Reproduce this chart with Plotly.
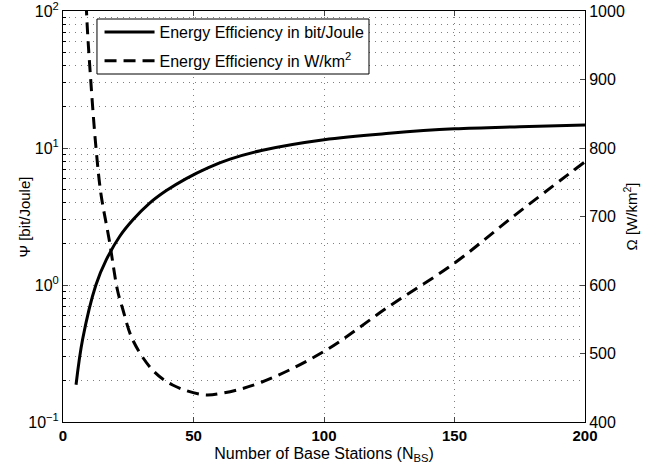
import plotly.graph_objects as go

# Energy efficiency in bit/Joule (left, log axis)
n_psi = [5, 7.5, 12.6, 16.6, 21.7, 26.8, 33.2, 39.6, 47.2, 55.5, 64, 76, 100, 125, 150, 175, 200]
psi = [0.187, 0.40, 1.0, 1.53, 2.26, 2.99, 3.96, 4.89, 5.98, 7.17, 8.3, 9.6, 11.5, 12.8, 13.8, 14.3, 14.7]

# Energy efficiency in W/km^2 (right, linear axis)
n_omega = [8, 9, 10.7, 12.6, 14.5, 17.7, 20.9, 22.8, 26.7, 34.3, 42, 53.5, 61, 76, 100, 125, 150, 172.5, 200]
omega = [1150, 1000, 895, 802, 734, 666, 592, 566, 520, 476, 454, 440, 442, 458, 503, 569, 632, 700, 780]

x_ticks = [0, 50, 100, 150, 200]
x_ticktext = ["<b>0</b>", "<b>50</b>", "<b>100</b>", "<b>150</b>", "<b>200</b>"]
y_ticks = [0.1, 1, 10, 100]
y_ticktext = ["10<sup>−1</sup>", "10<sup>0</sup>", "10<sup>1</sup>", "10<sup>2</sup>"]
y_minor = [m * d for d in (0.1, 1, 10) for m in range(2, 10)]
y2_ticks = [400, 500, 600, 700, 800, 900, 1000]

FONT = "Liberation Sans, Arial, Helvetica, sans-serif"
GRID = "rgba(0,0,0,0.5)"
DOT = "1px,5px"

fig = go.Figure()
fig.add_trace(go.Scatter(
    x=n_psi, y=psi, mode="lines", line=dict(color="black", width=3, shape="spline"),
    name="Energy Efficiency in bit/Joule", yaxis="y", legendgroup="a"))
fig.add_trace(go.Scatter(
    x=n_omega, y=omega, mode="lines",
    line=dict(color="black", width=3, dash="12px,7px", shape="spline"),
    name="Energy Efficiency in W/km<sup>2</sup>", yaxis="y2", legendgroup="b"))

# legend frame
fig.add_shape(type="rect", xref="paper", yref="paper",
              x0=0.0651, x1=0.5862, y0=0.8467, y1=0.9805,
              line=dict(color="black", width=1), fillcolor="white", layer="above")

# left axis title (placed close to the tick labels, as in the reference)
fig.add_annotation(text="Ψ [bit/Joule]", xref="paper", yref="paper",
                   x=-0.0728, y=0.5, xanchor="center", yanchor="middle",
                   textangle=-90, showarrow=False, font=dict(size=15))

fig.update_layout(
    width=657, height=472,
    margin=dict(l=63, r=72, t=11, b=50),
    paper_bgcolor="white", plot_bgcolor="white",
    font=dict(family=FONT, size=15, color="black"),
    showlegend=True,
    legend=dict(
        x=0.07, y=0.99, xanchor="left", yanchor="top",
        bgcolor="rgba(0,0,0,0)", borderwidth=0,
        font=dict(family=FONT, size=16, color="black"),
        tracegroupgap=5, itemwidth=50,
    ),
    xaxis=dict(
        range=[0, 200], tickvals=x_ticks, ticktext=x_ticktext,
        ticks="inside", ticklen=5,
        showline=True, linecolor="black", linewidth=1, mirror="ticks",
        showgrid=True, gridcolor=GRID, griddash=DOT, gridwidth=1,
        zeroline=False, automargin=False, ticklabeloverflow="allow",
        title=dict(text="Number of Base Stations (N<sub>BS</sub>)",
                   font=dict(size=16), standoff=4),
        tickfont=dict(size=15),
    ),
    yaxis=dict(
        type="log", range=[-1, 2], tickvals=y_ticks, ticktext=y_ticktext,
        ticks="inside", ticklen=5,
        showline=True, linecolor="black", linewidth=1, mirror=True,
        showgrid=True, gridcolor=GRID, griddash=DOT, gridwidth=1,
        minor=dict(tickvals=y_minor, ticks="inside", ticklen=3, showgrid=True,
                   gridcolor=GRID, griddash=DOT, gridwidth=1, tickcolor="black"),
        zeroline=False, automargin=False, ticklabeloverflow="allow",
        tickfont=dict(size=16),
    ),
    yaxis2=dict(
        overlaying="y", side="right", range=[400, 1000], tickvals=y2_ticks,
        ticks="inside", ticklen=5, showline=True, linecolor="black", linewidth=1,
        showgrid=False, zeroline=False, automargin=False, ticklabeloverflow="allow",
        title=dict(text="Ω [W/km<sup>2</sup>]", font=dict(size=15), standoff=2),
        tickfont=dict(size=16),
    ),
)

fig.write_html("out.html")
